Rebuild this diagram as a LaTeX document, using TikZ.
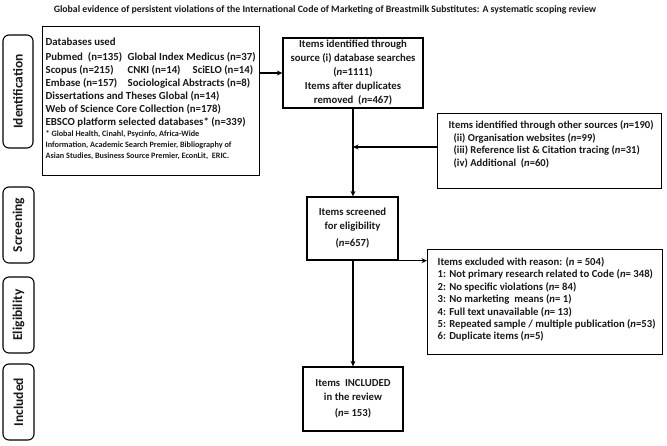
\documentclass[tikz,border=0pt]{standalone}
\usepackage{fontspec}
\setmainfont{Carlito}
\usetikzlibrary{arrows.meta}
\begin{document}
\begin{tikzpicture}[x=1pt,y=-1pt,
  every node/.style={font=\bfseries\fontsize{10}{13}\selectfont, text=black!90},
  box/.style={draw, line width=1.3pt, inner sep=0pt},
  cbox/.style={box, align=center, font=\bfseries\fontsize{10.7}{14}\selectfont},
  phase/.style={draw, rounded corners=6pt, line width=1.1pt, inner sep=0pt, rotate=90, font=\bfseries\fontsize{13.5}{15}\selectfont},
  arr/.style={-{Stealth[length=5.5pt,width=5pt]}, line width=1.1pt}]
\fill[white] (0,0) rectangle (667,445);
\useasboundingbox (0,0) rectangle (667,445);

\node[font=\bfseries\fontsize{9.8}{11}\selectfont] (title) at (325,10) {Global evidence of persistent violations of the International Code of Marketing of Breastmilk Substitutes: A systematic scoping review};

% phase labels
\node[phase, minimum width=113, minimum height=30] (pid) at (18,91.5) {Identification};
\node[phase, minimum width=76, minimum height=31] (pscr) at (18.5,225) {Screening};
\node[phase, minimum width=76, minimum height=31] (pel) at (18.5,315) {Eligibility};
\node[phase, minimum width=76, minimum height=31] (pinc) at (18.5,402) {Included};

% databases
\node[box, anchor=north west] (db) at (42,26) {\parbox[c][149pt][t]{217pt}{\vspace*{11pt}\raggedright\fontsize{10.8}{13}\selectfont\leftskip=3pt\relax
Databases used\\[2pt]
\makebox[82pt][l]{Pubmed~ (n=135)}Global Index Medicus (n=37)\\
\makebox[82pt][l]{Scopus (n=215)}\makebox[65pt][l]{CNKI (n=14)}SciELO (n=14)\\
\makebox[82pt][l]{Embase (n=157)}Sociological Abstracts (n=8)\\
Dissertations and Theses Global (n=14)\\
Web of Science Core Collection (n=178)\\
EBSCO platform selected databases* (n=339)\par
{\fontsize{8.2}{11}\selectfont * Global Health, Cinahl, Psycinfo, Africa-Wide\\
Information, Academic Search Premier, Bibliography of\\
Asian Studies, Business Source Premier, EconLit,~ ERIC.\par}}};

% items identified
\node[cbox, minimum width=140, minimum height=70] (items) at (353,73) {Items identified through\\source (i) database searches\\(\textit{n}=1111)\\Items after duplicates\\removed~~(\textit{n}=467)};

% other sources
\node[box, anchor=north west] (other) at (437,113) {\parbox[c][75pt][t]{224pt}{\vspace*{7pt}\raggedright\fontsize{10.6}{12.7}\selectfont
\hspace*{11pt}Items identified through other sources (\textit{n}=190)\\
\hspace*{16pt}(ii) Organisation websites (\textit{n}=99)\\
\hspace*{16pt}(iii) Reference list \& Citation tracing (\textit{n}=31)\\
\hspace*{16pt}(iv) Additional~ (\textit{n}=60)\par}};

% screening
\node[cbox, minimum width=91, minimum height=63] (screen) at (352.5,228.5) {Items screened\\for eligibility\\[3pt](\textit{n}=657)};

% excluded
\node[box, anchor=north west] (excl) at (427,249) {\parbox[c][105pt][t]{235pt}{\vspace*{8pt}\raggedright\fontsize{10.7}{12.4}\selectfont\leftskip=10pt\relax
Items excluded with reason: (\textit{n} = 504)\\
1: Not primary research related to Code (\textit{n}= 348)\\
2: No specific violations (\textit{n}= 84)\\
3: No marketing~ means (\textit{n}= 1)\\
4: Full text unavailable (\textit{n}= 13)\\
5: Repeated sample / multiple publication (\textit{n}=53)\\
6: Duplicate items (\textit{n}=5)\par}};

% included
\node[cbox, minimum width=100, minimum height=64] (incl) at (353,399) {Items~ INCLUDED\\in the review\\[2pt](\textit{n}= 153)};

% connectors
\coordinate (j) at (353,147);
\draw[arr] (db.east |- items.west) -- (items.west);
\draw[arr] (items.south) -- (items.south |- screen.north);
\draw[arr] (j -| other.west) -- (j);
\draw[arr] (screen.south east) -- (screen.south east -| excl.west);
\draw[arr] (screen.south -| incl.north) -- (incl.north);
\end{tikzpicture}
\end{document}
